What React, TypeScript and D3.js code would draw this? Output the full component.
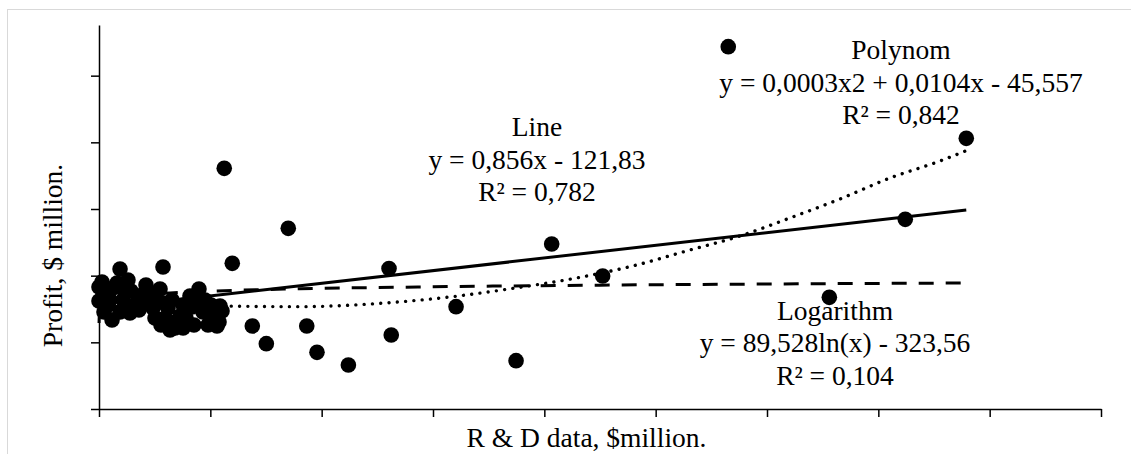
import { useRef, useEffect } from 'react';
import * as d3 from 'd3';

// R&D spending, $ million (x) and profit, $ million (y)
const rdSpend = [
  0, 0, 2.7, 3.6, 4.5, 9.9, 11.7, 12.6, 16.2, 18.9, 21.6, 26.0, 27.8, 28.7, 35.0, 35.9,
  42.2, 43.1, 48.5, 54.8, 55.7, 57.5, 58.4, 62.0, 65.6, 68.3, 70.1, 72.8, 75.5, 83.5,
  85.3, 88.0, 89.8, 97.9, 100.6, 104.2, 106.0, 107.8, 108.7,
  5.4, 8.1, 23.4, 32.3, 38.6, 45.8, 51.2, 59.3, 63.8, 78.1, 81.7, 93.4, 95.2, 101.5,
  110.5, 75.5, 50.3, 18.9,
  112.5, 170.0, 119.7, 260.5, 137.7, 150.3, 186.6, 195.8, 224, 262.5, 406.6, 452.4,
  320.7, 374.6, 565.2, 779, 724.2, 656,
];
const profit = [
  183, 162, 190.5, 169.5, 145.5, 163.5, 133.5, 181.5, 189, 210, 163.5, 193.5, 144, 177, 168, 148.5,
  186, 159, 151.5, 180, 126, 213, 159, 151.5, 163.5, 121.5, 132, 139.5, 156, 153,
  126, 162, 180, 126, 156, 153, 124.5, 130.5, 154.5,
  178.5, 156, 175.5, 156, 171, 171, 166.5, 136.5, 118.5, 136.5, 169.5, 145.5, 163.5, 141,
  147, 121.5, 136.5, 145.5,
  361, 271, 218.5, 210.8, 124.5, 98, 124.5, 85, 66, 111, 247.5, 199.5,
  153.5, 72.5, 543.5, 406, 284.5, 167.5,
];

// trend lines as they appear on the chart
const lineTrend = [[0, 150.6], [779, 298.5]];
const logTrend = [
  [0.04, 129], [0.3, 142], [1, 149], [5, 159], [20, 167], [50, 172.5], [104, 177],
  [180, 180.3], [300, 183.3], [450, 185.8], [600, 187.5], [779, 189],
];
const polyTrend = [
  [0, 171], [45.8, 159], [113.2, 154.5], [180.5, 153.5], [252.4, 158.5], [312.3, 167.5],
  [372.1, 181], [432, 197.5], [476.9, 213.5], [530.8, 238.5], [575.7, 259.5], [620.6, 286.5],
  [665.6, 315], [710.5, 346.5], [755.4, 372], [779, 387.5],
];

const xTicks = [0, 100, 200, 300, 400, 500, 600, 700, 800, 900];
const yTicks = [0, 100, 200, 300, 400, 500];

const lineLabel = ['Line', 'y = 0,856x - 121,83', 'R² = 0,782'];
const polyLabel = ['Polynom', 'y = 0,0003x2 + 0,0104x - 45,557', 'R² = 0,842'];
const logLabel = ['Logarithm', 'y = 89,528ln(x) - 323,56', 'R² = 0,104'];

const W = 1131;
const H = 454;
const FONT = '"Liberation Serif", "Times New Roman", serif';

const App = () => {
  const svgRef = useRef<SVGSVGElement>(null);

  useEffect(() => {
    const svg = d3.select(svgRef.current);
    svg.selectAll('*').remove();

    const x = d3.scaleLinear().domain([0, 900]).range([99, 1101]);
    const y = d3.scaleLinear().domain([0, 576]).range([409, 25]);

    // chart frame
    svg.append('rect')
      .attr('x', 7.5).attr('y', 9.5)
      .attr('width', 1140).attr('height', 460)
      .attr('fill', '#fff')
      .attr('stroke', '#d9d9d9');

    const xAxis = svg.append('g')
      .attr('transform', 'translate(0,409)')
      .call(d3.axisBottom(x).tickValues(xTicks).tickSize(8).tickSizeOuter(0).tickFormat(() => ''));
    const yAxis = svg.append('g')
      .attr('transform', 'translate(99,0)')
      .call(d3.axisLeft(y).tickValues(yTicks).tickSize(8).tickSizeOuter(0).tickFormat(() => ''));
    [xAxis, yAxis].forEach(g => {
      g.selectAll('path, line').attr('stroke', '#000').attr('stroke-width', 1.5);
    });

    // points
    svg.append('g')
      .selectAll('circle')
      .data(rdSpend.map((v, i) => [v, profit[i]]))
      .join('circle')
      .attr('cx', d => x(d[0]))
      .attr('cy', d => y(d[1]))
      .attr('r', 7.8)
      .attr('fill', '#000');

    const line = d3.line<number[]>().x(d => x(d[0])).y(d => y(d[1]));
    const smooth = d3.line<number[]>().x(d => x(d[0])).y(d => y(d[1])).curve(d3.curveMonotoneX);

    svg.append('path')
      .attr('d', line(lineTrend))
      .attr('fill', 'none').attr('stroke', '#000').attr('stroke-width', 3);

    svg.append('path')
      .attr('d', smooth(logTrend))
      .attr('fill', 'none').attr('stroke', '#000').attr('stroke-width', 3)
      .attr('stroke-dasharray', '15 12');

    svg.append('path')
      .attr('d', smooth(polyTrend))
      .attr('fill', 'none').attr('stroke', '#000').attr('stroke-width', 3.4)
      .attr('stroke-linecap', 'round')
      .attr('stroke-dasharray', '0.01 8.3');

    const block = (lines: string[], cx: number, top: number) => {
      svg.append('g')
        .selectAll('text')
        .data(lines)
        .join('text')
        .attr('x', cx)
        .attr('y', (_, i) => top + i * 32.5)
        .attr('text-anchor', 'middle')
        .attr('font-family', FONT)
        .attr('font-size', 27.5)
        .attr('fill', '#000')
        .text(d => d);
    };
    block(lineLabel, 537, 136);
    block(polyLabel, 901, 59);
    block(logLabel, 835, 319.5);

    svg.append('text')
      .attr('x', 586.5).attr('y', 447)
      .attr('text-anchor', 'middle')
      .attr('font-family', FONT).attr('font-size', 27.5)
      .text('R & D data, $million.');

    svg.append('text')
      .attr('transform', 'translate(62,255.5) rotate(-90)')
      .attr('text-anchor', 'middle')
      .attr('font-family', FONT).attr('font-size', 27.5)
      .text('Profit, $ million.');
  }, []);

  return (
    <div style={{ position: 'fixed', left: 0, top: 0, width: W, height: H, overflow: 'hidden', background: '#fff' }}>
      <svg ref={svgRef} width={W} height={H} style={{ display: 'block' }}></svg>
    </div>
  );
};

export default App;
